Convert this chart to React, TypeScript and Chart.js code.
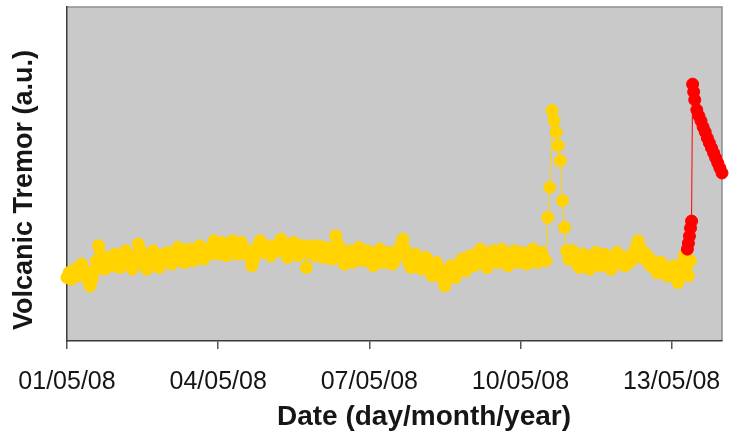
import React, { useEffect, useRef } from 'react';
import { Chart, registerables } from 'chart.js';

Chart.register(...registerables);

// x axis: hours since 01/05/08 00:00, labelled every three days
const tickHours = [0, 72, 144, 216, 288];
const tickLabels = ['01/05/08', '04/05/08', '07/05/08', '10/05/08', '13/05/08'];

// hourly tremor amplitude (a.u.), first sample at 01/05/08 00:00, one row per day
const yellowTremor = [
  19, 20.5, 18.5, 20, 21.5, 19.5, 21, 23, 21.5, 19.5, 18, 16.5, 18.5, 21, 24, 28.5, 26, 23.5, 21.5, 23.5, 25, 22.5, 24.5, 26,
  24, 22, 23.5, 25.5, 27, 25, 23, 21.5, 23, 25.5, 29, 27, 24.5, 22.5, 21.5, 23.5, 25.5, 27, 25, 23, 22, 24, 26, 24.5,
  26.5, 24.5, 23, 24.5, 26.5, 28, 26, 24, 23.5, 25.5, 27.5, 26, 24, 25.5, 27.5, 28.5, 26.5, 24.5, 25.5, 27.5, 26, 28, 30, 27.5,
  26, 28, 29.5, 27.5, 25.5, 27, 29, 30, 28, 26, 27.5, 29.5, 28, 26, 27, 25, 22.5, 24.5, 26.5, 28.5, 30, 28, 26.5, 28.5,
  27, 25.5, 27, 28.5, 27, 29, 30.5, 28.5, 26.5, 25, 26.5, 28.5, 29.5, 27.5, 25.5, 27, 28.5, 27, 22, 26.5, 28.5, 27, 25.5, 27,
  28.5, 26.5, 25, 26.5, 28, 26, 24.5, 27, 31.5, 29, 26.5, 24.5, 23, 25, 27, 25.5, 23.5, 25, 27, 28, 26, 24, 25.5, 27,
  25.5, 23.5, 22.5, 24.5, 26.5, 27.5, 25.5, 23.5, 24.5, 26.5, 25, 23, 24, 26, 27.5, 28.5, 30.5, 27.5, 25, 23, 22, 24, 26, 24.5,
  23, 21.5, 23.5, 25, 23, 21, 19.5, 21.5, 23.5, 22, 20, 18.5, 16.5, 18.5, 20.5, 22.5, 20.5, 19, 21, 23, 24.5, 22.5, 21, 23.5,
  25.5, 24, 22.5, 24.5, 26.5, 27.5, 25.5, 23.5, 22, 23.5, 25.5, 27, 25, 23.5, 25.5, 27.5, 26, 24, 22.5, 24, 26, 27, 25, 23.5,
  24.5, 26.5, 25, 23, 24.5, 26.5, 27.5, 25.5, 23.5, 25, 26.5, 25, 24, 37, 46, 69, 66, 62.5, 58.5, 54, 42, 34, 27, 24.5,
  26, 27, 25, 23, 22, 24, 26, 24.5, 22.5, 21.5, 23.5, 25.5, 26.5, 24.5, 22.5, 24, 26, 25, 23, 21.5, 23, 25, 26.5, 24,
  23, 24.5, 22.5, 24, 25.5, 24, 26, 28, 30, 28, 26, 24.5, 26, 24.5, 22.5, 24, 22, 20.5, 22, 23.5, 21.5, 20, 19.5, 21.5,
  20, 22.5, 19, 17.5, 20, 23, 25.5, 22, 19.5, 24,
];

// final episode on 13/05/08: sample times (hours since 01/05/08) and amplitudes
const redHours = [
  295.5, 296, 296.5, 297, 297.5, 298, 298.5, 299, 300, 301, 302, 303, 304,
  305, 306, 307, 308, 309, 310, 311, 312,
];
const redTremor = [
  27.5, 29.3, 31.4, 33.8, 35.9, 76.9, 74.6, 72.2, 69.2, 67.4, 65.9, 64.1, 62.6,
  60.8, 59.3, 57.8, 56.3, 54.8, 53.3, 51.8, 50.3,
];

const YELLOW = '#ffd200';
const RED = '#ff0000';
const FONT = '"Liberation Sans", Arial, Helvetica, sans-serif';

const plotFrame = {
  id: 'plotFrame',
  beforeDraw(chart: any) {
    const { ctx, chartArea: a } = chart;
    ctx.save();
    ctx.fillStyle = '#c9c9c9';
    ctx.fillRect(a.left, a.top, a.right - a.left, a.bottom - a.top);
    ctx.strokeStyle = '#8e8e8e';
    ctx.lineWidth = 1.5;
    ctx.beginPath();
    ctx.moveTo(a.left, a.top);
    ctx.lineTo(a.right, a.top);
    ctx.lineTo(a.right, a.bottom);
    ctx.stroke();
    ctx.restore();
  },
};

const axisTitles = {
  id: 'axisTitles',
  afterDraw(chart: any) {
    const { ctx } = chart;
    ctx.save();
    ctx.fillStyle = '#161616';
    ctx.font = `bold 28px ${FONT}`;
    ctx.textAlign = 'center';
    ctx.textBaseline = 'middle';
    ctx.fillText('Date (day/month/year)', 424, 417);
    ctx.font = `bold 27px ${FONT}`;
    ctx.translate(25, 190);
    ctx.rotate(-Math.PI / 2);
    ctx.fillText('Volcanic Tremor (a.u.)', 0, 0);
    ctx.restore();
  },
};

export default function App() {
  const canvasRef = useRef<HTMLCanvasElement | null>(null);

  useEffect(() => {
    const canvas = canvasRef.current;
    if (!canvas) return;

    const yellowPoints = yellowTremor.map((v, i) => ({ x: i, y: v }));
    const redPoints = redTremor.map((v, i) => ({ x: redHours[i], y: v }));

    const chart = new Chart(canvas, {
      type: 'line',
      data: {
        datasets: [
          {
            data: yellowPoints,
            borderColor: YELLOW,
            backgroundColor: YELLOW,
            pointBackgroundColor: YELLOW,
            pointBorderColor: YELLOW,
            borderWidth: 1,
            pointRadius: 6,
            pointBorderWidth: 1,
            tension: 0,
            clip: false as any,
            order: 2,
          },
          {
            data: redPoints,
            borderColor: RED,
            backgroundColor: RED,
            pointBackgroundColor: RED,
            pointBorderColor: RED,
            borderWidth: 1,
            pointRadius: 6,
            pointBorderWidth: 1,
            tension: 0,
            clip: false as any,
            order: 1,
          },
        ],
      },
      options: {
        responsive: false,
        animation: false,
        devicePixelRatio: 1,
        layout: { padding: { top: 7, right: 6, left: 0, bottom: 0 } },
        plugins: {
          legend: { display: false },
          tooltip: { enabled: false },
          title: { display: false },
        },
        scales: {
          x: {
            type: 'linear',
            min: 0,
            max: 312,
            afterBuildTicks: (scale: any) => {
              scale.ticks = tickHours.map((h) => ({ value: h }));
            },
            afterFit: (scale: any) => {
              scale.height = 95;
              scale.paddingLeft = 0;
              scale.paddingRight = 0;
            },
            ticks: {
              autoSkip: false,
              maxRotation: 0,
              padding: 18,
              color: '#161616',
              font: { family: FONT, size: 25 },
              callback: (value: any) => {
                const i = tickHours.indexOf(Number(value));
                return i >= 0 ? tickLabels[i] : '';
              },
            },
            grid: {
              drawOnChartArea: false,
              drawTicks: true,
              tickLength: 8,
              color: '#555555',
              lineWidth: 1.5,
            },
            border: { display: true, color: '#3a3a3a', width: 1.5 },
          },
          y: {
            type: 'linear',
            min: 0,
            max: 100,
            afterFit: (scale: any) => {
              scale.width = 67;
              scale.paddingTop = 0;
              scale.paddingBottom = 0;
            },
            ticks: { display: false },
            grid: { display: false, drawTicks: false },
            border: { display: true, color: '#3a3a3a', width: 1.5 },
          },
        },
      },
      plugins: [plotFrame, axisTitles],
    });

    return () => chart.destroy();
  }, []);

  return (
    <div style={{ position: 'absolute', left: 0, top: 0, width: 729, height: 436, background: '#ffffff' }}>
      <canvas ref={canvasRef} width={729} height={436} style={{ display: 'block' }} />
    </div>
  );
}
